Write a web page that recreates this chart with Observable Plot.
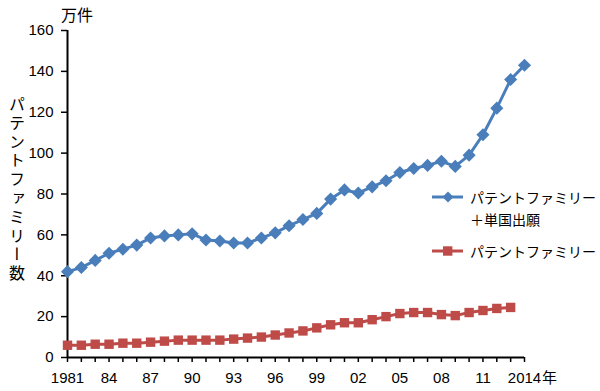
<!DOCTYPE html>
<html>
<head>
<meta charset="utf-8">
<script src="https://cdn.jsdelivr.net/npm/d3@7"></script>
<script src="https://cdn.jsdelivr.net/npm/@observablehq/plot@0.6"></script>
<style>
  html, body { margin: 0; padding: 0; background: #fff; }
  #wrap { position: relative; width: 600px; height: 391px; overflow: hidden; font-family: "Liberation Sans", "Noto Sans CJK JP", sans-serif; }
  #wrap svg { display: block; }
  .ytitle { position: absolute; left: 5px; top: 96px; writing-mode: vertical-rl; font-family: "Noto Sans CJK JP", sans-serif; font-size: 16px; letter-spacing: 2.8px; color: #000; }
  .unit { position: absolute; left: 61px; top: 2px; font-family: "Noto Sans CJK JP", sans-serif; font-size: 16px; color: #000; }
  .legend { position: absolute; left: 432px; top: 186px; font-family: "Noto Sans CJK JP", sans-serif; font-size: 14px; color: #000; white-space: nowrap; }
  .legend .row { display: flex; align-items: flex-start; height: 22px; line-height: 22px; white-space: nowrap; }
  .legend svg { flex: none; margin-right: 7px; }
</style>
</head>
<body>
<div id="wrap"></div>
<script>
// ---- data ----
const years = [1981,1982,1983,1984,1985,1986,1987,1988,1989,1990,1991,1992,1993,1994,1995,1996,1997,1998,1999,2000,2001,2002,2003,2004,2005,2006,2007,2008,2009,2010,2011,2012,2013,2014];
const familyPlusSingle = [42,44,47.5,51,53,55,58.5,59.5,60,60.5,57.5,57,56,56,58.5,61,64.5,67.5,70.5,77.5,82,80.5,83.5,86.5,90.5,92.5,94,96,93.5,99,109,122,136,143];
const familyOnly = [6,6,6.5,6.5,7,7,7.5,8,8.5,8.5,8.5,8.5,9,9.5,10,11,12,13,14.5,16,17,17,18.5,20,21.5,22,22,21,20.5,22,23,24,24.5];
const xLabelYears = [1981,1984,1987,1990,1993,1996,1999,2002,2005,2008,2011,2014];
const xLabels = ["1981","84","87","90","93","96","99","02","05","08","11","2014"];
const yTicks = [0,20,40,60,80,100,120,140,160];
const seriesNames = ["パテントファミリー＋単国出願", "パテントファミリー"];
const unitLabel = "万件";
const yTitle = "パテントファミリー数";
const yearSuffix = "年";

const blue = "#4a7ebb";
const red = "#be4b48";

const blueData = years.map((y, i) => ({year: y, value: familyPlusSingle[i]}));
const redData = familyOnly.map((v, i) => ({year: years[i], value: v}));
const labelMap = new Map(xLabelYears.map((y, i) => [y, xLabels[i]]));

const chart = Plot.plot({
  width: 600,
  height: 391,
  marginLeft: 67,
  marginRight: 76,
  marginTop: 30,
  marginBottom: 34,
  style: {fontFamily: '"Liberation Sans", "Noto Sans CJK JP", sans-serif', fontSize: "15px", color: "#000", background: "#fff"},
  x: {domain: [1981, 2014]},
  y: {domain: [0, 160]},
  marks: [
    Plot.axisY({ticks: yTicks, tickSize: 6, tickPadding: 8, fontSize: 15, label: null, stroke: "#000", strokeWidth: 1.5}),
    Plot.axisX({ticks: years, tickSize: 5, tickPadding: 10, fontSize: 15, label: null, tickFormat: d => labelMap.get(d) ?? "", stroke: "#000", strokeWidth: 1.5}),
    Plot.ruleY([0], {stroke: "#000", strokeWidth: 2}),
    Plot.ruleX([1981], {stroke: "#000", strokeWidth: 2}),
    Plot.line(redData, {x: "year", y: "value", stroke: red, strokeWidth: 3}),
    Plot.dot(redData, {x: "year", y: "value", symbol: "square", r: 5.3, fill: red, stroke: null}),
    Plot.line(blueData, {x: "year", y: "value", stroke: blue, strokeWidth: 3}),
    Plot.dot(blueData, {x: "year", y: "value", symbol: "diamond2", r: 5.9, fill: blue, stroke: null}),
    Plot.text([yearSuffix], {x: () => 2014, y: () => 0, text: d => d, dx: 25, dy: 21, fontSize: 15, fontFamily: '"Noto Sans CJK JP", sans-serif'})
  ]
});

const wrap = document.getElementById("wrap");
wrap.appendChild(chart);

const unit = document.createElement("div");
unit.className = "unit";
unit.textContent = unitLabel;
wrap.appendChild(unit);

const yt = document.createElement("div");
yt.className = "ytitle";
yt.textContent = yTitle;
wrap.appendChild(yt);

const legend = document.createElement("div");
legend.className = "legend";
legend.innerHTML = `
  <div class="row"><svg width="31" height="22"><line x1="0" y1="11" x2="31" y2="11" stroke="${blue}" stroke-width="3"/><path d="M16,5.5 L21.5,11 L16,16.5 L10.5,11 Z" fill="${blue}"/></svg><span>パテントファミリー</span></div>
  <div class="row" style="padding-left:38px">＋単国出願</div>
  <div class="row" style="margin-top:10px"><svg width="31" height="22"><line x1="0" y1="11" x2="31" y2="11" stroke="${red}" stroke-width="3"/><rect x="11" y="6.3" width="9.4" height="9.4" fill="${red}"/></svg><span>パテントファミリー</span></div>
`;
wrap.appendChild(legend);
</script>
</body>
</html>
